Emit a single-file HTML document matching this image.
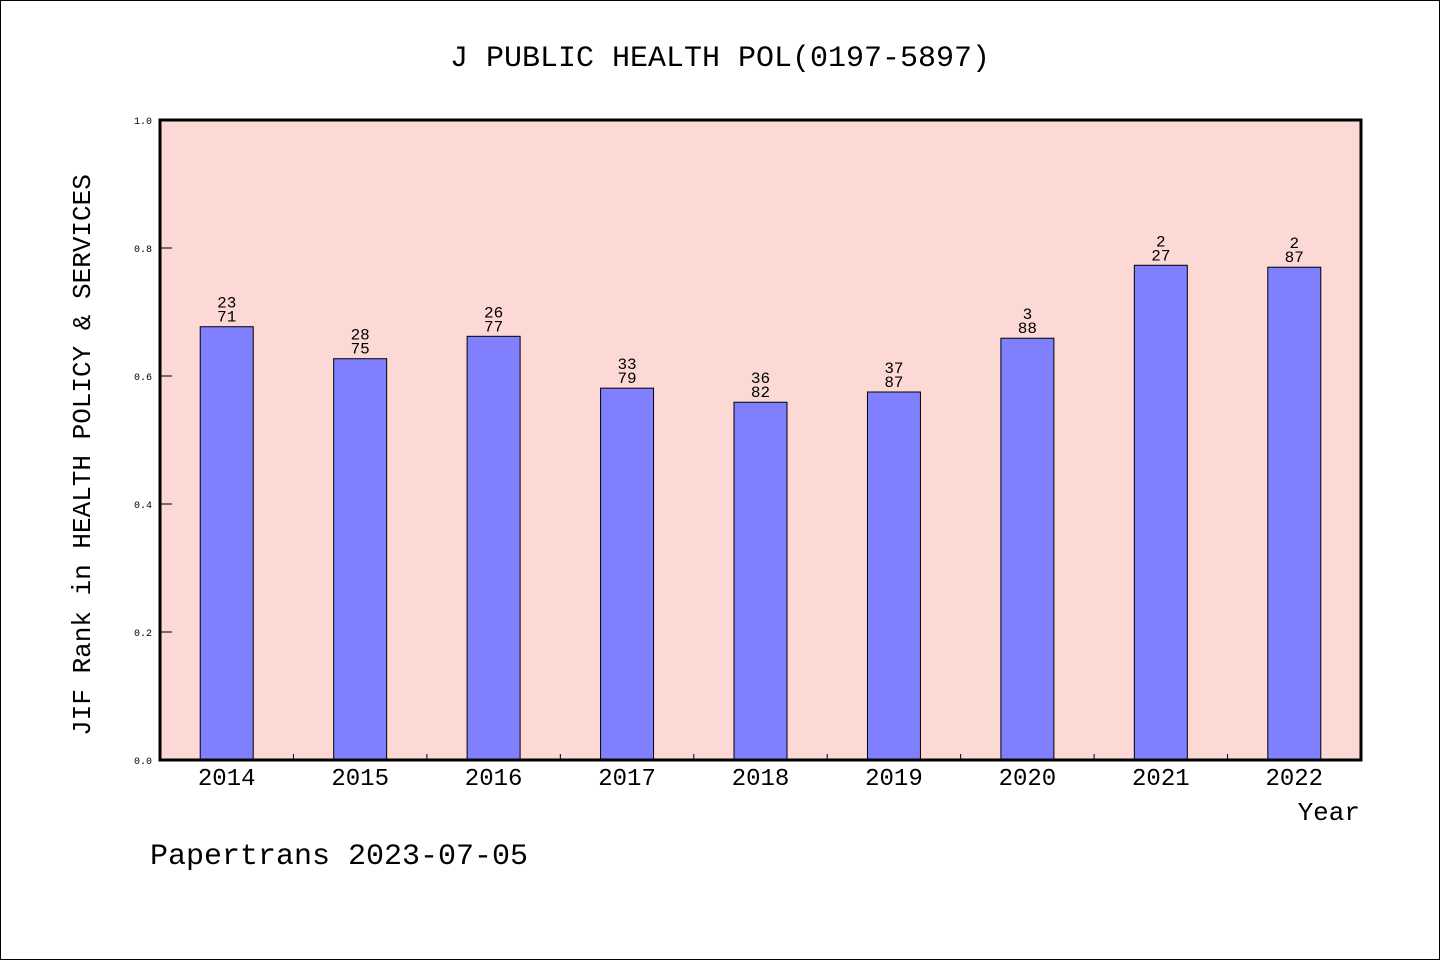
<!DOCTYPE html>
<html><head><meta charset="utf-8"><style>
body{margin:0;background:#fff}
svg{display:block;font-family:"Liberation Mono","DejaVu Sans Mono",monospace}
</style></head><body>
<svg id="c" width="1440" height="960">
<rect x="0.5" y="0.5" width="1439" height="959" fill="#fff" stroke="#000"/>
<text x="720" y="66" font-size="30" text-anchor="middle">J PUBLIC HEALTH POL(0197-5897)</text>
<rect x="160" y="120" width="1201" height="640" fill="#fdd9d6"/>
<g id="bars"></g>
<g id="axes"></g>
<rect x="160" y="120" width="1201" height="640" fill="none" stroke="#000" stroke-width="3"/>
<text transform="translate(90,455) rotate(-90)" font-size="26" text-anchor="middle">JIF Rank in HEALTH POLICY &amp; SERVICES</text>
<text x="1360" y="820" font-size="26" text-anchor="end">Year</text>
<text x="150" y="864" font-size="30">Papertrans 2023-07-05</text>
</svg>
<script>
const years=["2014","2015","2016","2017","2018","2019","2020","2021","2022"];
const values=[0.677,0.627,0.662,0.581,0.559,0.575,0.659,0.773,0.770];
const numerators=["23","28","26","33","36","37","3","2","2"];
const denominators=["71","75","77","79","82","87","88","27","87"];
const yTicks=[0,0.2,0.4,0.6,0.8,1.0];
const NS="http://www.w3.org/2000/svg";
const X0=160,X1=1361,Y0=760,Y1=120;
const slot=(X1-X0)/years.length;
const xc=i=>X0+slot*(i+0.5);
const y=v=>Y0-(Y0-Y1)*v;
function mk(t,a,p){const e=document.createElementNS(NS,t);for(const k in a)e.setAttribute(k,a[k]);p.appendChild(e);return e;}
const bars=document.getElementById('bars'),axes=document.getElementById('axes');
years.forEach((yr,i)=>{
  const bw=53,top=y(values[i]);
  const r=mk('rect',{x:xc(i)-bw/2,y:top,width:bw,height:Y0-top,fill:'#8080ff',stroke:'#000','stroke-width':1},bars);
  
  
  const n=mk('text',{x:xc(i),y:top-19,'font-size':16,'text-anchor':'middle'},bars);n.textContent=numerators[i];
  
  
  const d=mk('text',{x:xc(i),y:top-5,'font-size':16,'text-anchor':'middle'},bars);d.textContent=denominators[i];
  
  
  const t=mk('text',{x:xc(i),y:785,'font-size':24,'text-anchor':'middle'},axes);t.textContent=yr;
  
  
  if(i>0){const l=mk('line',{x1:X0+slot*i,x2:X0+slot*i,y1:Y0,y2:Y0-6,stroke:'#000'},axes);
  
  }
});
yTicks.forEach(v=>{
  const l=mk('line',{x1:X0,x2:X0+12,y1:y(v),y2:y(v),stroke:'#000'},axes);
  
  
  const t=mk('text',{x:152,y:y(v)+4,'font-size':10,'text-anchor':'end'},axes);t.textContent=v.toFixed(1);
  
  
});
</script>
</body></html>
